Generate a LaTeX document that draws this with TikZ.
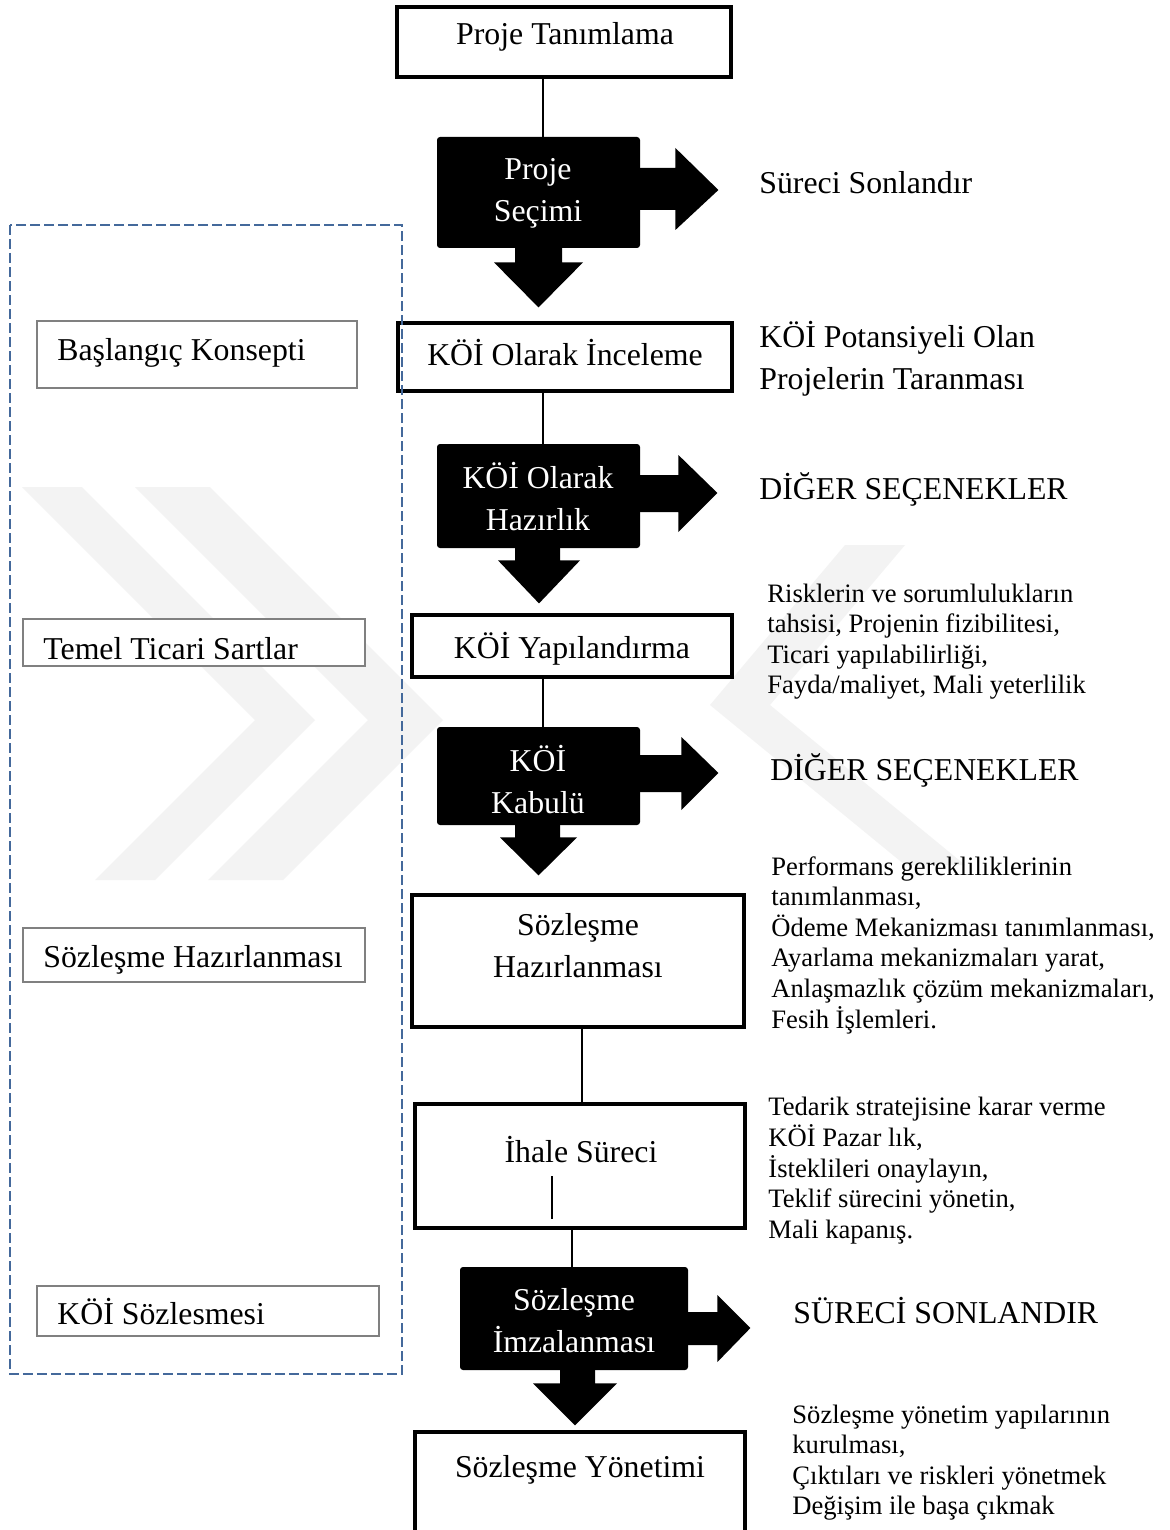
\documentclass[tikz,border=0pt]{standalone}
\usepackage{fontspec}
\setmainfont{Liberation Serif}
\usetikzlibrary{calc}
\definecolor{frameblue}{RGB}{68,105,155}
\definecolor{boxgray}{RGB}{128,128,128}
\definecolor{markgray}{RGB}{243,243,243}
% stacked lines, baseline of the first row
\newcommand{\rowsof}[2][c]{\begin{tabular}[t]{@{}#1@{}}#2\end{tabular}}
% fat arrow leaving a node to the right
\newcommand{\sidearrow}[8]{\fill[fat] ($(#1.east)+(-1,#2)$) -- ($(#1.east)+(#4,#2)$) -- ($(#1.east)+(#4,#5)$) -- ($(#1.east)+(#7,#8)$) -- ($(#1.east)+(#4,#6)$) -- ($(#1.east)+(#4,#3)$) -- ($(#1.east)+(-1,#3)$) -- cycle;}
% fat arrow leaving a node downwards
\newcommand{\downfat}[8]{\fill[fat] ($(#1.south)+(#2,-1)$) -- ($(#1.south)+(#2,#4)$) -- ($(#1.south)+(#5,#4)$) -- ($(#1.south)+(#7,#8)$) -- ($(#1.south)+(#6,#4)$) -- ($(#1.south)+(#3,#4)$) -- ($(#1.south)+(#3,-1)$) -- cycle;}
\begin{document}
\begin{tikzpicture}[x=0.5pt,y=-0.5pt,
  big/.style={font=\fontsize{15.9}{21}\selectfont},
  small/.style={font=\fontsize{13.3}{15.3}\selectfont},
  stepbox/.style={draw=black, line width=2.2pt, fill=white, inner sep=0pt},
  decision/.style={fill=black, rounded corners=1.5pt, inner sep=0pt},
  phase/.style={draw=boxgray, line width=1pt, fill=white, inner sep=0pt},
  link/.style={line width=1pt},
  fat/.style={fill=black},
  ctext/.style={inner sep=0pt, anchor=base, big},
  wtext/.style={inner sep=0pt, anchor=base, big, text=white},
  lbl/.style={inner sep=0pt, anchor=base west, big},
  note/.style={inner sep=0pt, anchor=base west, small},
]
\useasboundingbox (0,0) rectangle (1169,1530);
\clip (0,0) rectangle (1169,1530);
\fill[white] (0,0) rectangle (1169,1530);

% faint logo in the background
\fill[markgray] (22,487) -- (82,487) -- (315,720) -- (155,880) -- (95,880) -- (255,720) -- cycle;
\fill[markgray] (135,487) -- (210,487) -- (443,720) -- (283,880) -- (208,880) -- (368,720) -- cycle;
\fill[markgray] (845,545) -- (905,545) -- (770,705) -- (965,865) -- (905,865) -- (710,705) -- cycle;

% process steps
\node[stepbox, minimum width=167pt, minimum height=35pt] (pt) at (564,42) {};
\node[decision, minimum width=101.5pt, minimum height=55.5pt] (b1) at (538.5,192.5) {};
\node[stepbox, minimum width=167pt, minimum height=34pt] (ki) at (565,357) {};
\node[decision, minimum width=101.5pt, minimum height=52pt] (b2) at (538.5,496) {};
\node[stepbox, minimum width=160pt, minimum height=31pt] (ky) at (572,646) {};
\node[decision, minimum width=101.5pt, minimum height=49pt] (b3) at (538.5,776) {};
\node[stepbox, minimum width=166pt, minimum height=66pt] (sh) at (578,961) {};
\node[stepbox, minimum width=165pt, minimum height=62pt] (ih) at (580,1166) {};
\node[decision, minimum width=114pt, minimum height=51.5pt] (b4) at (574,1318.5) {};
\node[stepbox, minimum width=165pt, minimum height=56.5pt] (sy) at (580,1488.5) {};

% thin connectors
\coordinate (c1) at (543,0);
\coordinate (c4) at (582,0);
\coordinate (c5) at (572,0);
\draw[link] (c1 |- pt.south) -- (c1 |- b1.north);
\draw[link] (c1 |- ki.south) -- (c1 |- b2.north);
\draw[link] (c1 |- ky.south) -- (c1 |- b3.north);
\draw[link] (c4 |- sh.south) -- (c4 |- ih.north);
\draw[link] (c5 |- ih.south) -- (c5 |- b4.north);

% fat arrows out of the decision boxes
\sidearrow{b1}{-24.5}{17.5}{35}{-44.5}{37.5}{78}{-2.5}
\sidearrow{b2}{-21}{16}{38}{-41}{36}{77}{-3}
\sidearrow{b3}{-21}{16}{41}{-39}{34}{78}{-3}
\sidearrow{b4}{-6.5}{26.5}{29}{-23.5}{43.5}{62}{9.5}
\downfat{b1}{-23.5}{23.5}{14}{-44.5}{44.5}{0}{59}
\downfat{b2}{-23.5}{21.5}{12}{-40.5}{41.5}{0.5}{55}
\downfat{b3}{-23.5}{21.5}{12}{-38.5}{38.5}{0}{50}
\downfat{b4}{-14}{21}{13}{-41}{43}{1}{55}

% texts of the steps
\node[ctext] (ptt) at (565,45) {Proje Tanımlama};
\node[wtext] (b1t) at (538,180) {\rowsof{Proje\\Seçimi}};
\node[ctext] (kit) at (565,365) {KÖİ Olarak İnceleme};
\node[wtext] (b2t) at (538,488) {\rowsof{KÖİ Olarak\\Hazırlık}};
\node[ctext] (kyt) at (572,658) {KÖİ Yapılandırma};
\node[wtext] (b3t) at (538,771) {\rowsof{KÖİ\\Kabulü}};
\node[ctext] (sht) at (578,935) {\rowsof{Sözleşme\\Hazırlanması}};
\node[ctext] (iht) at (581,1162) {İhale Süreci};
\draw[line width=1.3pt] (552,1176) -- (552,1219);
\node[wtext] (b4t) at (574,1310) {\rowsof{Sözleşme\\İmzalanması}};
\node[ctext] (syt) at (580,1477) {Sözleşme Yönetimi};

% outcomes on the right
\node[lbl] (o1) at (759,194) {Süreci Sonlandır};
\node[lbl] (o2) at (759,347) {\rowsof[l]{KÖİ Potansiyeli Olan\\Projelerin Taranması}};
\node[lbl] (o3) at (759,499) {DİĞER SEÇENEKLER};
\node[note] (o4) at (767,602) {\rowsof[l]{Risklerin ve sorumlulukların\\tahsisi, Projenin fizibilitesi,\\Ticari yapılabilirliği,\\Fayda/maliyet, Mali yeterlilik}};
\node[lbl] (o5) at (770,780) {DİĞER SEÇENEKLER};
\node[note] (o6) at (771,875) {\rowsof[l]{Performans gerekliliklerinin\\tanımlanması,\\Ödeme Mekanizması tanımlanması,\\Ayarlama mekanizmaları yarat,\\Anlaşmazlık çözüm mekanizmaları,\\Fesih İşlemleri.}};
\node[note] (o7) at (768,1115) {\rowsof[l]{Tedarik stratejisine karar verme\\KÖİ Pazar lık,\\İsteklileri onaylayın,\\Teklif sürecini yönetin,\\Mali kapanış.}};
\node[lbl] (o8) at (793,1323) {SÜRECİ SONLANDIR};
\node[note] (o9) at (792,1423) {\rowsof[l]{Sözleşme yönetim yapılarının\\kurulması,\\Çıktıları ve riskleri yönetmek\\Değişim ile başa çıkmak}};

% phases on the left
\node[phase, minimum width=160pt, minimum height=33.5pt] (p1) at (197,354.5) {};
\node[lbl] (p1t) at (57,360) {Başlangıç Konsepti};
\node[phase, minimum width=171pt, minimum height=23.5pt] (p2) at (194,642.5) {};
\node[lbl] (p2t) at (43,659) {Temel Ticari Sartlar};
\node[phase, minimum width=171pt, minimum height=27pt] (p3) at (194,955) {};
\node[lbl] (p3t) at (43,967) {Sözleşme Hazırlanması};
\node[phase, minimum width=171pt, minimum height=25pt] (p4) at (208,1310.5) {};
\node[lbl] (p4t) at (57,1324) {KÖİ Sözlesmesi};

% dashed frame around the phases
\draw[frameblue, line width=1.2pt, dash pattern=on 5pt off 2pt] (10,225) rectangle (402,1374);
\end{tikzpicture}
\end{document}
